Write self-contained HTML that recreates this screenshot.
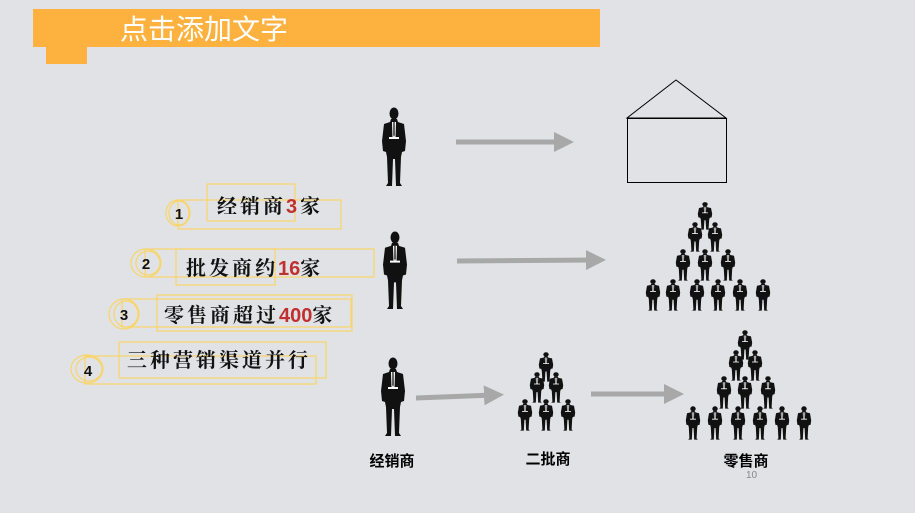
<!DOCTYPE html>
<html><head><meta charset="utf-8"><style>
body{margin:0;width:915px;height:508px;background:#e1e2e6;overflow:hidden;font-family:"Liberation Sans","Noto Sans CJK SC",sans-serif}
</style></head><body>
<svg width="915" height="508" viewBox="0 0 915 508" xmlns="http://www.w3.org/2000/svg">
<defs>
<symbol id="p" viewBox="0 0 30 80" preserveAspectRatio="none">
<ellipse cx="15" cy="6.5" rx="4.5" ry="6" fill="#111"/>
<path d="M12 12 L18 12 L19 15 L25 17 L27 34 L26 44 L23 45 L22 50 L21 76 L23 79 L17 79 L16 52 L14 52 L13 79 L7 79 L9 76 L8 50 L7 45 L4 44 L3 34 L5 17 L11 15 Z" fill="#111"/>
<path d="M13 15 L17 15 L16.5 30 L13.5 30 Z" fill="#fff"/>
<path d="M14.3 15 L15.7 15 L15.8 28 L15 30 L14.2 28 Z" fill="#333"/>
<rect x="10" y="30" width="10" height="2" fill="#fff"/>
</symbol>
<marker id="a" markerWidth="4" markerHeight="4" refX="2" refY="2" orient="auto" markerUnits="strokeWidth"><path d="M0 0 L4 2 L0 4 Z" fill="#a8a8a8"/></marker>
</defs>
<rect x="33" y="9" width="567" height="38" fill="#fdb240"/>
<rect x="46" y="47" width="41" height="17" fill="#fdb240"/>
<text x="120" y="39" font-size="28" fill="#fff" font-family="Liberation Sans,Noto Sans CJK SC,sans-serif">点击添加文字</text>

<polygon points="676,80 627,118 726,118" fill="none" stroke="#000" stroke-width="1"/>
<rect x="627.5" y="118.5" width="99" height="64" fill="none" stroke="#000" stroke-width="1"/>

<use href="#p" x="379" y="107" width="30" height="80"/>
<use href="#p" x="380" y="231" width="30" height="79"/>
<use href="#p" x="378" y="357" width="30" height="80"/>

<g stroke="#a8a8a8" stroke-width="5" fill="none">
<line x1="456" y1="142" x2="564" y2="142" marker-end="url(#a)"/>
<line x1="457" y1="261" x2="596" y2="260" marker-end="url(#a)"/>
<line x1="416" y1="398" x2="494" y2="395" marker-end="url(#a)"/>
<line x1="591" y1="394" x2="674" y2="394" marker-end="url(#a)"/>
</g>

<g>
<use href="#p" x="696" y="202" width="18" height="28"/>
<use href="#p" x="686" y="222" width="18" height="30"/>
<use href="#p" x="706" y="222" width="18" height="30"/>
<use href="#p" x="674" y="249" width="18" height="32"/>
<use href="#p" x="696" y="249" width="18" height="32"/>
<use href="#p" x="719" y="249" width="18" height="32"/>
<use href="#p" x="644" y="279" width="18" height="32"/>
<use href="#p" x="664" y="279" width="18" height="32"/>
<use href="#p" x="688" y="279" width="18" height="32"/>
<use href="#p" x="709" y="279" width="18" height="32"/>
<use href="#p" x="731" y="279" width="18" height="32"/>
<use href="#p" x="754" y="279" width="18" height="32"/>
</g>
<g>
<use href="#p" x="736" y="330" width="18" height="30"/>
<use href="#p" x="727" y="350" width="18" height="31"/>
<use href="#p" x="746" y="350" width="18" height="31"/>
<use href="#p" x="715" y="376" width="18" height="33"/>
<use href="#p" x="736" y="376" width="18" height="33"/>
<use href="#p" x="759" y="376" width="18" height="33"/>
<use href="#p" x="684" y="406" width="18" height="34"/>
<use href="#p" x="706" y="406" width="18" height="34"/>
<use href="#p" x="729" y="406" width="18" height="34"/>
<use href="#p" x="751" y="406" width="18" height="34"/>
<use href="#p" x="773" y="406" width="18" height="34"/>
<use href="#p" x="795" y="406" width="18" height="34"/>
</g>
<g>
<use href="#p" x="537" y="352" width="18" height="30"/>
<use href="#p" x="528" y="372" width="18" height="31"/>
<use href="#p" x="547" y="372" width="18" height="31"/>
<use href="#p" x="516" y="399" width="18" height="32"/>
<use href="#p" x="537" y="399" width="18" height="32"/>
<use href="#p" x="559" y="399" width="18" height="32"/>
</g>

<g font-size="15" font-weight="bold" fill="#000" text-anchor="middle">
<text x="392" y="466">经销商</text>
<text x="548" y="464">二批商</text>
<text x="746" y="466">零售商</text>
</g>
<text x="746" y="478" font-size="10" fill="#888">10</text>

<g fill="none" stroke="#f8d56a" stroke-width="1.2">
<rect x="207" y="184" width="88" height="37"/>
<rect x="178" y="200" width="163" height="29"/>
<ellipse cx="178" cy="213" rx="12" ry="13"/><ellipse cx="179" cy="213" rx="10" ry="12"/>
<rect x="176" y="249" width="99" height="36"/>
<rect x="145" y="249" width="229" height="28"/>
<ellipse cx="146" cy="263" rx="15" ry="14"/><ellipse cx="148" cy="263" rx="12" ry="12"/>
<rect x="157" y="295" width="195" height="36"/>
<rect x="122" y="299" width="229" height="28"/>
<ellipse cx="124" cy="314" rx="15" ry="15"/><ellipse cx="126" cy="314" rx="12" ry="13"/>
<rect x="119" y="342" width="207" height="36"/>
<rect x="85" y="356" width="231" height="28"/>
<ellipse cx="87" cy="369" rx="16" ry="14"/><ellipse cx="89" cy="369" rx="13" ry="12"/>
</g>
<g font-size="15" font-weight="bold" fill="#111" text-anchor="middle">
<text x="179" y="219">1</text>
<text x="146" y="269">2</text>
<text x="124" y="320">3</text>
<text x="88" y="376">4</text>
</g>
<g font-size="20" fill="#111" font-family="Noto Serif CJK SC,Noto Sans CJK SC,serif" font-weight="bold" letter-spacing="3">
<text x="217" y="213">经销商<tspan fill="#c0302e" font-family="Liberation Sans">3</tspan>家</text>
<text x="186" y="275">批发商约<tspan fill="#c0302e" font-family="Liberation Sans" letter-spacing="0">16</tspan>家</text>
<text x="164" y="322">零售商超过<tspan fill="#c0302e" font-family="Liberation Sans" letter-spacing="0">400</tspan>家</text>
<text x="127" y="367">三种营销渠道并行</text>
</g>
</svg>
</body></html>
